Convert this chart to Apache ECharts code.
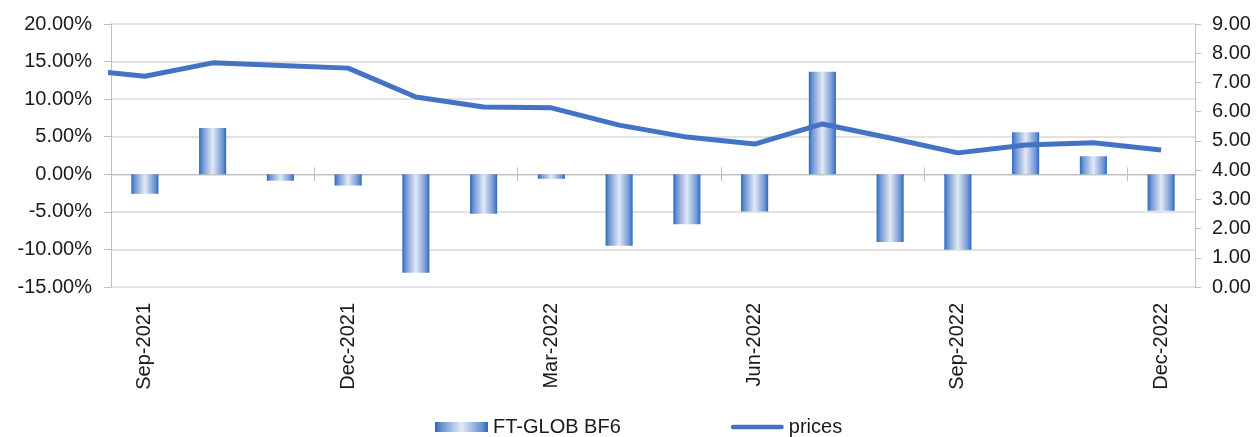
<!DOCTYPE html>
<html>
<head>
<meta charset="utf-8">
<script src="https://cdn.jsdelivr.net/npm/echarts@6/dist/echarts.min.js"></script>
<style>
html,body{margin:0;padding:0;background:#fff;}
#chart{width:1256px;height:437px;}
</style>
</head>
<body>
<div id="chart"></div>
<script>
// Categories (monthly)
const categories = ["Sep-2021","Oct-2021","Nov-2021","Dec-2021","Jan-2022","Feb-2022","Mar-2022","Apr-2022","May-2022","Jun-2022","Jul-2022","Aug-2022","Sep-2022","Oct-2022","Nov-2022","Dec-2022"];
// Monthly returns, % (left axis)
const returnsPct = [-2.6, 6.15, -0.85, -1.5, -13.1, -5.25, -0.6, -9.5, -6.65, -4.95, 13.65, -9.0, -10.05, 5.6, 2.4, -4.85];
// Prices (right axis); first value is the preceding month (Aug-2021), clipped at the plot edge
const priceMonths = ["Aug-2021"].concat(categories);
const prices = [7.45, 7.21, 7.67, 7.58, 7.49, 6.50, 6.16, 6.13, 5.54, 5.13, 4.89, 5.58, 5.10, 4.59, 4.86, 4.94, 4.69];
// Axis ticks
const leftTicks = {min: -15, max: 20, interval: 5};
const rightTicks = {min: 0, max: 9, interval: 1};

const FONT = "'Liberation Sans', Arial, sans-serif";
const FS = 20;
const TXT = '#1a1a1a';
const AXIS = '#bfbfbf';
const GRID = '#d9d9d9';
const BLUE = '#4472C4';

const barGradient = new echarts.graphic.LinearGradient(0, 0, 1, 0, [
  {offset: 0, color: '#2a66c0'},
  {offset: 0.12, color: '#6a92d1'},
  {offset: 0.5, color: '#e3eaf6'},
  {offset: 0.88, color: '#6a92d1'},
  {offset: 1, color: '#2a66c0'}
]);

const linePoints = prices.map((v, i) => [i - 1, v]);

const chart = echarts.init(document.getElementById('chart'), null, {renderer: 'canvas'});
chart.setOption({
  animation: false,
  backgroundColor: '#fff',
  textStyle: {fontFamily: FONT},
  grid: {left: 111, right: 61, top: 24, bottom: 150, containLabel: false},
  legend: {
    left: 435, top: 417, padding: 0,
    itemWidth: 53, itemHeight: 10, itemGap: 110,
    textStyle: {fontFamily: FONT, fontSize: FS, color: TXT},
    data: [
      {name: 'FT-GLOB BF6', icon: 'rect'},
      {name: 'prices', icon: 'path://M2.5,0 L54.5,0 A2.5,2.5 0 0 1 54.5,5 L2.5,5 A2.5,2.5 0 0 1 2.5,0 Z', itemStyle: {color: BLUE}}
    ]
  },
  xAxis: [
    { // zero line with outward ticks
      type: 'category', data: categories, position: 'bottom',
      axisLine: {show: true, onZero: true, onZeroAxisIndex: 0, lineStyle: {color: AXIS, width: 1}},
      axisTick: {show: true, interval: 2, length: 7, lineStyle: {color: AXIS}},
      axisLabel: {show: false}, splitLine: {show: false}
    },
    { // labels at bottom
      type: 'category', data: categories, position: 'bottom',
      axisLine: {show: false, onZero: false}, axisTick: {show: false},
      axisLabel: {show: true, interval: 2, rotate: 90, margin: 16, fontFamily: FONT, fontSize: FS, color: TXT},
      splitLine: {show: false}
    },
    { // value x axis for line, hidden
      type: 'value', min: -0.5, max: categories.length - 0.5, show: false,
      axisLine: {onZero: false}
    },
    { // inward part of ticks on zero line
      type: 'category', data: categories, position: 'bottom',
      axisLine: {show: false, onZero: true, onZeroAxisIndex: 0},
      axisTick: {show: true, inside: true, interval: 2, length: 7, lineStyle: {color: AXIS}},
      axisLabel: {show: false}, splitLine: {show: false}
    }
  ],
  yAxis: [
    {
      type: 'value', position: 'left', min: leftTicks.min, max: leftTicks.max, interval: leftTicks.interval,
      axisLine: {show: true, onZero: false, lineStyle: {color: AXIS}},
      axisTick: {show: true, length: 7, lineStyle: {color: AXIS}},
      axisLabel: {margin: 19, fontFamily: FONT, fontSize: FS, color: TXT, formatter: v => v.toFixed(2) + '%'},
      splitLine: {show: true, lineStyle: {color: GRID, width: 1.5}}
    },
    {
      type: 'value', position: 'right', min: rightTicks.min, max: rightTicks.max, interval: rightTicks.interval,
      axisLine: {show: true, onZero: false, lineStyle: {color: AXIS}},
      axisTick: {show: true, length: 6, lineStyle: {color: AXIS}},
      axisLabel: {margin: 17, fontFamily: FONT, fontSize: FS, color: TXT, formatter: v => v.toFixed(2)},
      splitLine: {show: false}
    }
  ],
  series: [
    {
      name: 'FT-GLOB BF6', type: 'bar', xAxisIndex: 0, yAxisIndex: 0,
      data: returnsPct, barWidth: '40%',
      itemStyle: {color: barGradient}
    },
    {
      name: 'prices', type: 'line', xAxisIndex: 2, yAxisIndex: 1,
      data: linePoints, symbol: 'none', clip: true,
      lineStyle: {color: BLUE, width: 5}, itemStyle: {color: BLUE}
    }
  ]
});
</script>
</body>
</html>
